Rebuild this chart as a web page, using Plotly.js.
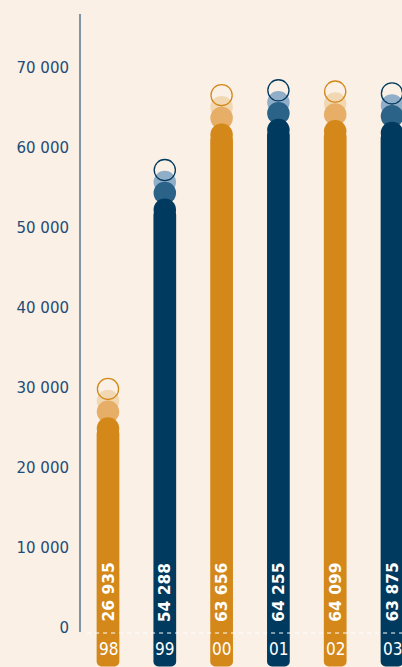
<!DOCTYPE html>
<html>
<head>
<meta charset="utf-8">
<script src="https://cdn.plot.ly/plotly-3.0.1.min.js"></script>
<style>
html,body{margin:0;padding:0;background:#FAF0E6;}
#chart{width:402px;height:667px;}
</style>
</head>
<body>
<div id="chart"></div>
<script>
// ---- data ----
const years = ['98', '99', '00', '01', '02', '03'];
const values = [26935, 54288, 63656, 64255, 64099, 63875];
const barColors = ['#D4881A', '#003A5E', '#D4881A', '#003A5E', '#D4881A', '#003A5E'];
const midColors = ['#E6AE66', '#2B6287', '#E6AE66', '#2B6287', '#E6AE66', '#2B6287'];
const lightColors = ['#F2D8B2', '#90AEC8', '#F2D8B2', '#90AEC8', '#F2D8B2', '#90AEC8'];
const tickVals = [0, 10000, 20000, 30000, 40000, 50000, 60000, 70000];

// ---- styling helpers ----
const pos = years.map((_, i) => i);   // category slots
const BOTTOM = -4800;
const capVals = values.map(v => v - 2000);
const fmt = v => String(v).replace(/\B(?=(\d{3})+(?!\d))/g, ' ');
const D = 22.5;

const traces = [
  { type: 'bar', x: pos, base: capVals, y: capVals.map(c => BOTTOM - c),
    width: 0.4, marker: { color: barColors, line: { width: 0 } }, hoverinfo: 'skip' },
  { type: 'scatter', mode: 'markers', x: pos, y: values.map(v => v + 1450),
    marker: { size: D, color: lightColors, line: { width: 0 } }, hoverinfo: 'skip', cliponaxis: false },
  { type: 'scatter', mode: 'markers', x: pos, y: values.map(v => v + 100),
    marker: { size: D, color: midColors, line: { width: 0 } }, hoverinfo: 'skip', cliponaxis: false },
  { type: 'scatter', mode: 'markers', x: pos, y: capVals,
    marker: { size: D, color: barColors, line: { width: 0 } }, hoverinfo: 'skip', cliponaxis: false },
  { type: 'scatter', mode: 'markers', x: pos, y: values.map(v => v + 2950),
    marker: { size: D - 1.3, color: 'rgba(0,0,0,0)', line: { width: 1.3, color: barColors } },
    hoverinfo: 'skip', cliponaxis: false }
];

const annotations = [];
years.forEach((yr, i) => {
  annotations.push({ x: i, y: 500, xref: 'x', yref: 'y', text: fmt(values[i]),
    textangle: -90, showarrow: false, yanchor: 'bottom', xanchor: 'center',
    font: { family: 'DejaVu Sans', size: 15.5, color: '#FFFFFF', weight: 'bold' } });
  annotations.push({ x: i, y: -2625, xref: 'x', yref: 'y', text: yr,
    showarrow: false, yanchor: 'middle', xanchor: 'center',
    font: { family: 'DejaVu Sans Condensed, DejaVu Sans', size: 17, color: '#FFFFFF' } });
});

const layout = {
  width: 402, height: 667,
  margin: { l: 80, r: 0, t: 14, b: 0, pad: 0 },
  paper_bgcolor: '#FAF0E6', plot_bgcolor: '#FAF0E6',
  showlegend: false,
  separators: '. ',
  barcornerradius: 5,
  xaxis: { type: 'linear', range: [-0.493, 5.176], showticklabels: false,
    showgrid: false, zeroline: false, showline: false, ticks: '', fixedrange: true },
  yaxis: { range: [-4875, 76750], tickvals: tickVals, tickformat: ',d',
    showgrid: false, zeroline: false, showline: false, ticks: '',
    ticklabelstandoff: 10,
    tickfont: { family: 'DejaVu Sans', size: 15, color: '#1E4D75' }, fixedrange: true },
  shapes: [
    { type: 'line', xref: 'paper', yref: 'y', x0: 0, x1: 0, y0: -500, y1: 76750,
      line: { color: '#3F6283', width: 1.3 } },
    { type: 'line', xref: 'paper', yref: 'y', x0: 0.022, x1: 1, y0: -625, y1: -625,
      line: { color: '#FFFFFF', width: 1, dash: '4px,4px' }, layer: 'above' }
  ],
  annotations: annotations
};

Plotly.newPlot('chart', traces, layout, { displayModeBar: false, staticPlot: true });
</script>
</body>
</html>
